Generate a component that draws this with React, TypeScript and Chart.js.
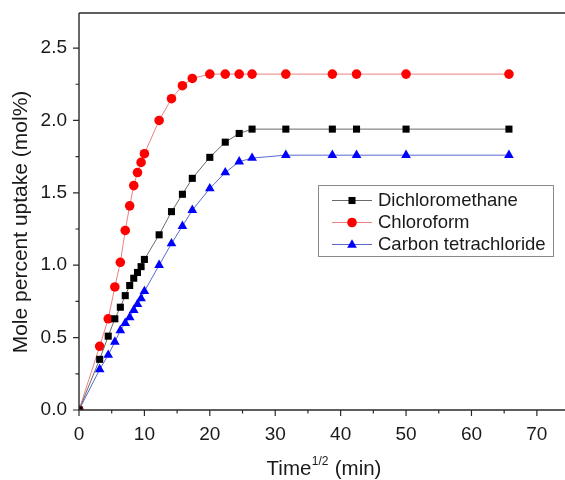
import React, { useEffect, useRef } from "react";
import { Chart, registerables } from "chart.js";

Chart.register(...registerables);

// sqrt(time in min)
const timeRoot = [0, 3.16, 4.47, 5.48, 6.32, 7.07, 7.75, 8.37, 8.94, 9.49, 10, 12.25, 14.14, 15.81, 17.32, 20, 22.36, 24.49, 26.46, 31.62, 38.73, 42.43, 50, 65.73];
const dichloromethane = [0, 0.35, 0.51, 0.63, 0.71, 0.79, 0.86, 0.91, 0.95, 0.99, 1.04, 1.21, 1.37, 1.49, 1.6, 1.745, 1.85, 1.91, 1.94, 1.94, 1.94, 1.94, 1.94, 1.94];
const chloroform = [0, 0.44, 0.63, 0.85, 1.02, 1.24, 1.41, 1.55, 1.64, 1.71, 1.77, 2.0, 2.15, 2.24, 2.29, 2.32, 2.32, 2.32, 2.32, 2.32, 2.32, 2.32, 2.32, 2.32];
const carbonTetrachloride = [0, 0.28, 0.38, 0.47, 0.55, 0.6, 0.64, 0.69, 0.73, 0.77, 0.82, 1.0, 1.15, 1.27, 1.38, 1.53, 1.64, 1.715, 1.74, 1.76, 1.76, 1.76, 1.76, 1.76];
const seriesNames = ["Dichloromethane", "Chloroform", "Carbon tetrachloride"];
const xTitle = ["Time", "1/2", " (min)"];
const yTitle = "Mole percent uptake (mol%)";

const FONT = "'Liberation Sans', Arial, sans-serif";

function drawMarker(ctx: CanvasRenderingContext2D, style: string, x: number, y: number, r: number, color: string) {
  ctx.save();
  ctx.fillStyle = color;
  ctx.beginPath();
  if (style === "circle") {
    ctx.arc(x, y, r, 0, Math.PI * 2);
  } else if (style === "rect") {
    const s = r * Math.SQRT1_2;
    ctx.rect(x - s, y - s, 2 * s, 2 * s);
  } else {
    const h = r * 1.5;
    const w = r * 0.866 * 2;
    ctx.moveTo(x, y - h * 0.62);
    ctx.lineTo(x + w / 2, y + h * 0.38);
    ctx.lineTo(x - w / 2, y + h * 0.38);
    ctx.closePath();
  }
  ctx.fill();
  ctx.restore();
}

const zeroPad = (s: any) => {
  s.paddingTop = 0;
  s.paddingBottom = 0;
  s.paddingLeft = 0;
  s.paddingRight = 0;
};

const framePlugin = {
  id: "framePlugin",
  afterDraw(chart: any) {
    const ctx = chart.ctx as CanvasRenderingContext2D;
    const { left, right, top, bottom } = chart.chartArea;
    const xs = chart.scales.x;
    const ys = chart.scales.y;
    ctx.save();
    ctx.strokeStyle = "#2a2a2a";
    ctx.lineWidth = 1.4;
    ctx.beginPath();
    ctx.moveTo(left, top);
    ctx.lineTo(left, bottom);
    ctx.lineTo(right + 2, bottom);
    ctx.moveTo(left, top);
    ctx.lineTo(right + 2, top);
    ctx.stroke();
    // ticks
    ctx.lineWidth = 1.2;
    ctx.beginPath();
    xs.ticks.forEach((t: any) => {
      const px = xs.getPixelForValue(t.value);
      const major = Math.abs(t.value % 10) < 1e-6;
      ctx.moveTo(px, bottom);
      ctx.lineTo(px, bottom + (major ? 6 : 3.5));
    });
    ys.ticks.forEach((t: any) => {
      const py = ys.getPixelForValue(t.value);
      const major = Math.abs(Math.round(t.value * 2) - t.value * 2) < 1e-6;
      ctx.moveTo(left, py);
      ctx.lineTo(left - (major ? 6 : 3.5), py);
    });
    ctx.stroke();

    // legend
    const lx = 318, ly = 185, lw = 235, lh = 71;
    ctx.strokeStyle = "#8a8a8a";
    ctx.lineWidth = 1;
    ctx.strokeRect(lx + 0.5, ly + 0.5, lw, lh);
    const rowsY = [200.5, 222.5, 244.5];
    chart.data.datasets.forEach((ds: any, i: number) => {
      const yy = rowsY[i];
      ctx.strokeStyle = ds.borderColor;
      ctx.lineWidth = 1;
      ctx.beginPath();
      ctx.moveTo(332, yy);
      ctx.lineTo(372, yy);
      ctx.stroke();
      drawMarker(ctx, ds.pointStyle, 352, yy, ds.pointRadius, ds.pointBackgroundColor);
      ctx.fillStyle = "#1a1a1a";
      ctx.font = `18.5px ${FONT}`;
      ctx.textBaseline = "middle";
      ctx.textAlign = "left";
      ctx.fillText(ds.label, 378, yy + 0.5);
    });

    // y title
    ctx.save();
    ctx.translate(21, 222);
    ctx.rotate(-Math.PI / 2);
    ctx.font = `21px ${FONT}`;
    ctx.fillStyle = "#1a1a1a";
    ctx.textAlign = "center";
    ctx.textBaseline = "middle";
    ctx.fillText(yTitle, 0, 0);
    ctx.restore();

    // x title
    ctx.font = `20.5px ${FONT}`;
    const w1 = ctx.measureText(xTitle[0]).width;
    const w3 = ctx.measureText(xTitle[2]).width;
    ctx.font = `12px ${FONT}`;
    const w2 = ctx.measureText(xTitle[1]).width;
    const total = w1 + w2 + w3 + 1;
    let sx = 324 - total / 2;
    const base = 475;
    ctx.fillStyle = "#1a1a1a";
    ctx.textAlign = "left";
    ctx.textBaseline = "alphabetic";
    ctx.font = `20.5px ${FONT}`;
    ctx.fillText(xTitle[0], sx, base);
    sx += w1 + 0.5;
    ctx.font = `12px ${FONT}`;
    ctx.fillText(xTitle[1], sx, base - 10);
    sx += w2 + 0.5;
    ctx.font = `20.5px ${FONT}`;
    ctx.fillText(xTitle[2], sx, base);
    ctx.restore();
  },
};

export default function App() {
  const ref = useRef<HTMLCanvasElement | null>(null);
  useEffect(() => {
    if (!ref.current) return;
    const mk = (arr: number[]) => arr.map((v, i) => ({ x: timeRoot[i], y: v }));
    const chart = new Chart(ref.current, {
      type: "line",
      data: {
        datasets: [
          {
            label: seriesNames[0],
            data: mk(dichloromethane),
            borderColor: "#6a6a6a",
            borderWidth: 1,
            pointStyle: "rect",
            pointRadius: 5,
            pointBackgroundColor: "#000000",
            pointBorderColor: "#000000",
            pointBorderWidth: 0,
            tension: 0,
          },
          {
            label: seriesNames[1],
            data: mk(chloroform),
            borderColor: "#ee8080",
            borderWidth: 1,
            pointStyle: "circle",
            pointRadius: 4.8,
            pointBackgroundColor: "#ff0000",
            pointBorderColor: "#ff0000",
            pointBorderWidth: 0,
            tension: 0,
          },
          {
            label: seriesNames[2],
            data: mk(carbonTetrachloride),
            borderColor: "#5a6ad0",
            borderWidth: 1,
            pointStyle: "triangle",
            pointRadius: 5.6,
            pointBackgroundColor: "#0000ff",
            pointBorderColor: "#0000ff",
            pointBorderWidth: 0,
            tension: 0,
          },
        ],
      },
      options: {
        responsive: false,
        animation: false,
        layout: { autoPadding: false, padding: { top: 13, left: 0, right: 0, bottom: 0 } },
        plugins: { legend: { display: false }, tooltip: { enabled: false } },
        scales: {
          x: {
            type: "linear",
            min: 0,
            max: 74.3,
            grid: { display: false, drawTicks: false },
            border: { display: false },
            afterBuildTicks: (s: any) => {
              s.ticks = s.ticks.filter((t: any) => Math.abs(t.value / 5 - Math.round(t.value / 5)) < 1e-6);
            },
            afterFit: (s: any) => {
              s.height = 70;
              zeroPad(s);
            },
            ticks: {
              stepSize: 5,
              includeBounds: false,
              autoSkip: false,
              maxRotation: 0,
              padding: 13,
              color: "#1a1a1a",
              font: { family: FONT, size: 19 },
              callback: (v: any) => (Math.abs(v % 10) < 1e-6 ? String(v) : ""),
            },
          },
          y: {
            type: "linear",
            min: 0,
            max: 2.742,
            grid: { display: false, drawTicks: false },
            border: { display: false },
            afterBuildTicks: (s: any) => {
              s.ticks = s.ticks.filter((t: any) => Math.abs(t.value * 4 - Math.round(t.value * 4)) < 1e-6);
            },
            afterFit: (s: any) => {
              s.width = 79;
              zeroPad(s);
            },
            ticks: {
              stepSize: 0.25,
              includeBounds: false,
              autoSkip: false,
              padding: 12,
              color: "#1a1a1a",
              font: { family: FONT, size: 19 },
              callback: (v: any) => (Math.abs(v * 2 - Math.round(v * 2)) < 1e-6 ? Number(v).toFixed(1) : ""),
            },
          },
        },
      },
      plugins: [framePlugin],
    });
    return () => chart.destroy();
  }, []);
  return (
    <div style={{ position: "fixed", left: 0, top: 0, width: 565, height: 480, background: "#fff" }}>
      <canvas ref={ref} width={565} height={480} style={{ display: "block" }} />
    </div>
  );
}
